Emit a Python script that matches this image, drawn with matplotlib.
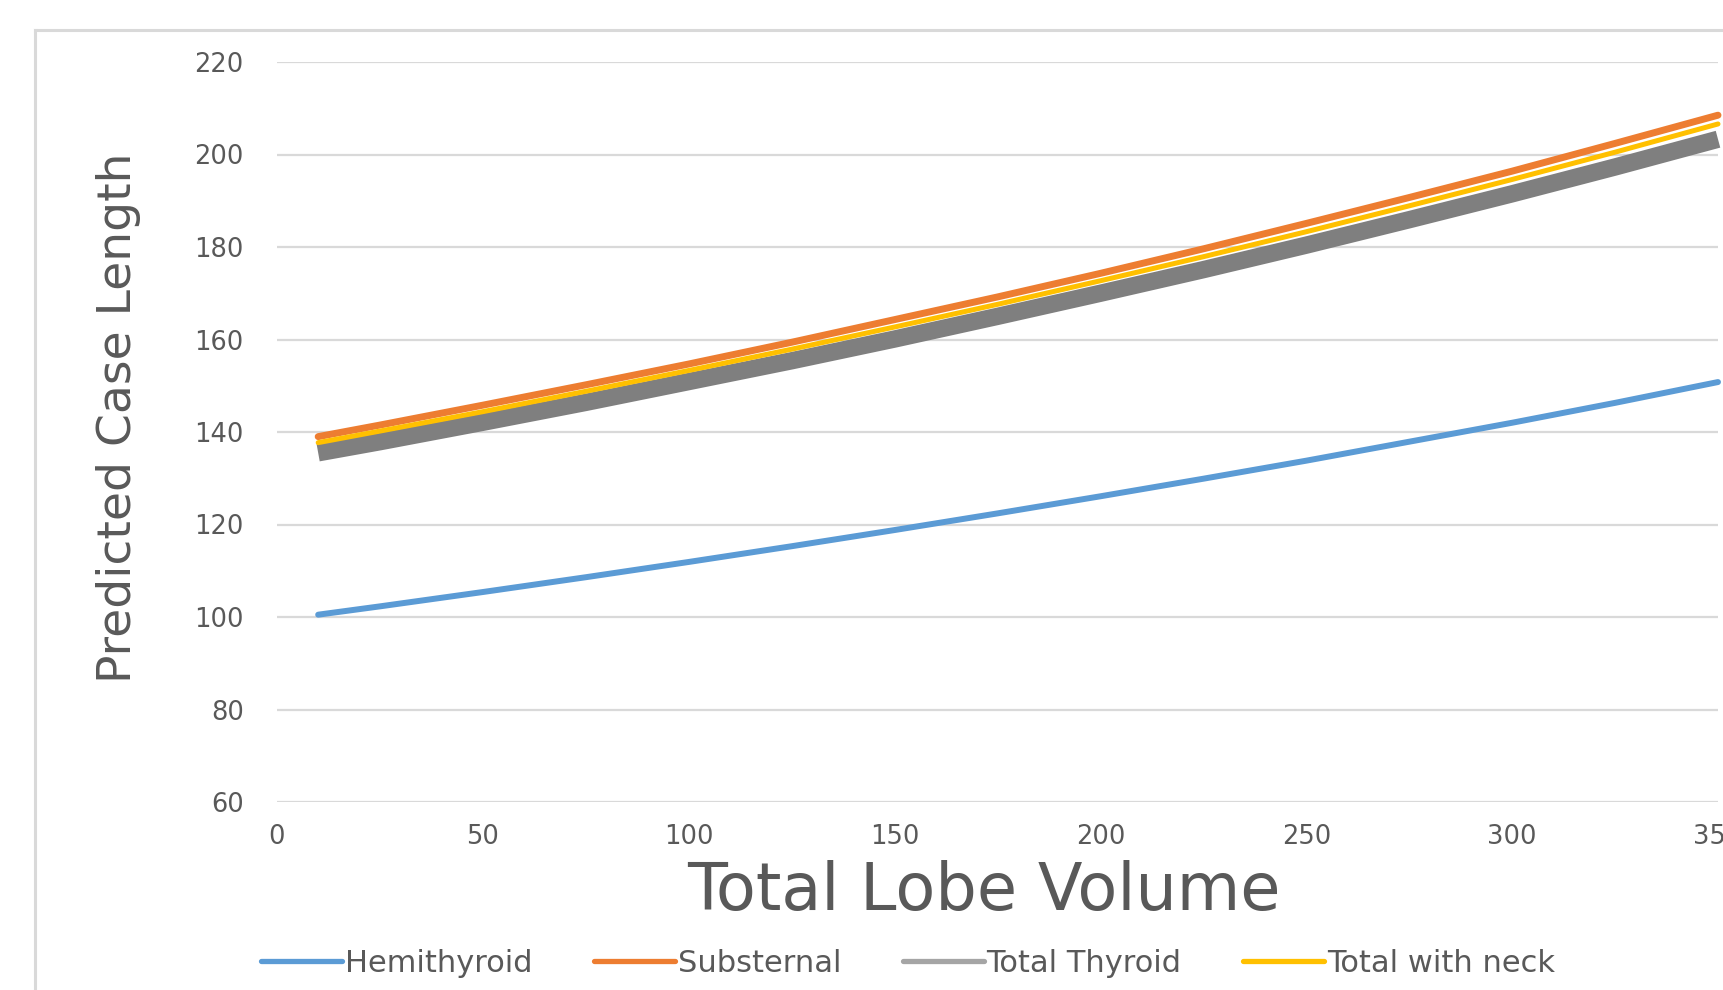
import matplotlib
matplotlib.use("Agg")
import matplotlib.pyplot as plt
from matplotlib.lines import Line2D

# Total lobe volume (x) and predicted case length per procedure
volume = [10, 25, 50, 75, 100, 125, 150, 175, 200, 225, 250, 275, 300, 325, 350]
hemithyroid = [100.5, 102.3, 105.4, 108.6, 111.9, 115.3, 118.8, 122.4, 126.1, 129.9, 133.8, 137.9, 142.0, 146.3, 150.8]
substernal = [139.0, 141.5, 145.8, 150.2, 154.7, 159.4, 164.3, 169.2, 174.3, 179.6, 185.1, 190.7, 196.4, 202.4, 208.5]
total_thyroid = [135.5, 137.9, 142.1, 146.4, 150.9, 155.4, 160.1, 165.0, 170.0, 175.1, 180.4, 185.9, 191.5, 197.3, 203.3]
total_with_neck = [137.7, 140.2, 144.4, 148.8, 153.3, 157.9, 162.7, 167.6, 172.7, 177.9, 183.3, 188.9, 194.6, 200.5, 206.6]

series_names = ["Hemithyroid", "Substernal", "Total Thyroid", "Total with neck"]
x_ticks = [0, 50, 100, 150, 200, 250, 300, 350]
y_ticks = [60, 80, 100, 120, 140, 160, 180, 200, 220]

W, H = 1724, 990
fig = plt.figure(figsize=(W / 100, H / 100), dpi=100)
fig.patch.set_facecolor("white")

# outer chart frame (left and top edges visible)
frame_kw = dict(color="#d9d9d9", linewidth=2.2, transform=fig.transFigure)
fig.add_artist(Line2D([35 / W, 35 / W], [0, 1 - 30 / H], **frame_kw))
fig.add_artist(Line2D([35 / W, 1], [1 - 30 / H, 1 - 30 / H], **frame_kw))

left, right, top, bottom = 277, 1718, 62, 802
ax = fig.add_axes([left / W, 1 - bottom / H, (right - left) / W, (bottom - top) / H])

styles = [
    dict(color="#5B9BD5", lw=4.3, solid_capstyle="round"),
    dict(color="#ED7D31", lw=5.0, solid_capstyle="round"),
    dict(color="#7F7F7F", lw=12.5, solid_capstyle="butt"),
    dict(color="#FFC000", lw=3.6, solid_capstyle="round"),
]
for ys, name, st in zip([hemithyroid, substernal, total_thyroid, total_with_neck], series_names, styles):
    ax.plot(volume, ys, label=name, clip_on=False, zorder=3, **st)

ax.set_xlim(0, 350)
ax.set_ylim(60, 220)
ax.set_xticks(x_ticks)
ax.set_yticks(y_ticks)
ax.grid(axis="y", color="#d9d9d9", linewidth=1.6, zorder=0)
ax.set_axisbelow(True)
for s in ax.spines.values():
    s.set_visible(False)
ax.tick_params(axis="both", length=0, labelcolor="#595959", labelsize=18.5)
ax.tick_params(axis="y", pad=24)
ax.tick_params(axis="x", pad=16)
for lab in ax.get_xticklabels() + ax.get_yticklabels():
    lab.set_fontfamily("DejaVu Sans")

ax.set_xlabel("Total Lobe Volume", fontsize=47, color="#595959", va="center")
ax.xaxis.set_label_coords((984 - left) / (right - left), (bottom - 892) / (bottom - top))
ax.set_ylabel("Predicted Case Length", fontsize=34, color="#595959", va="center")
ax.yaxis.set_label_coords((119 - left) / (right - left), (bottom - 418) / (bottom - top))

leg = fig.legend(loc="center", bbox_to_anchor=(908 / W, 1 - 963 / H), ncol=4, frameon=False,
                 fontsize=22, handlelength=2.65, handletextpad=0.1, columnspacing=2.0,
                 labelcolor="#595959")
legend_colors = ["#5B9BD5", "#ED7D31", "#A5A5A5", "#FFC000"]
for ln, c in zip(leg.get_lines(), legend_colors):
    ln.set_linewidth(3.8)
    ln.set_color(c)
    ln.set_solid_capstyle("round")

fig.savefig("out.png", dpi=100)
